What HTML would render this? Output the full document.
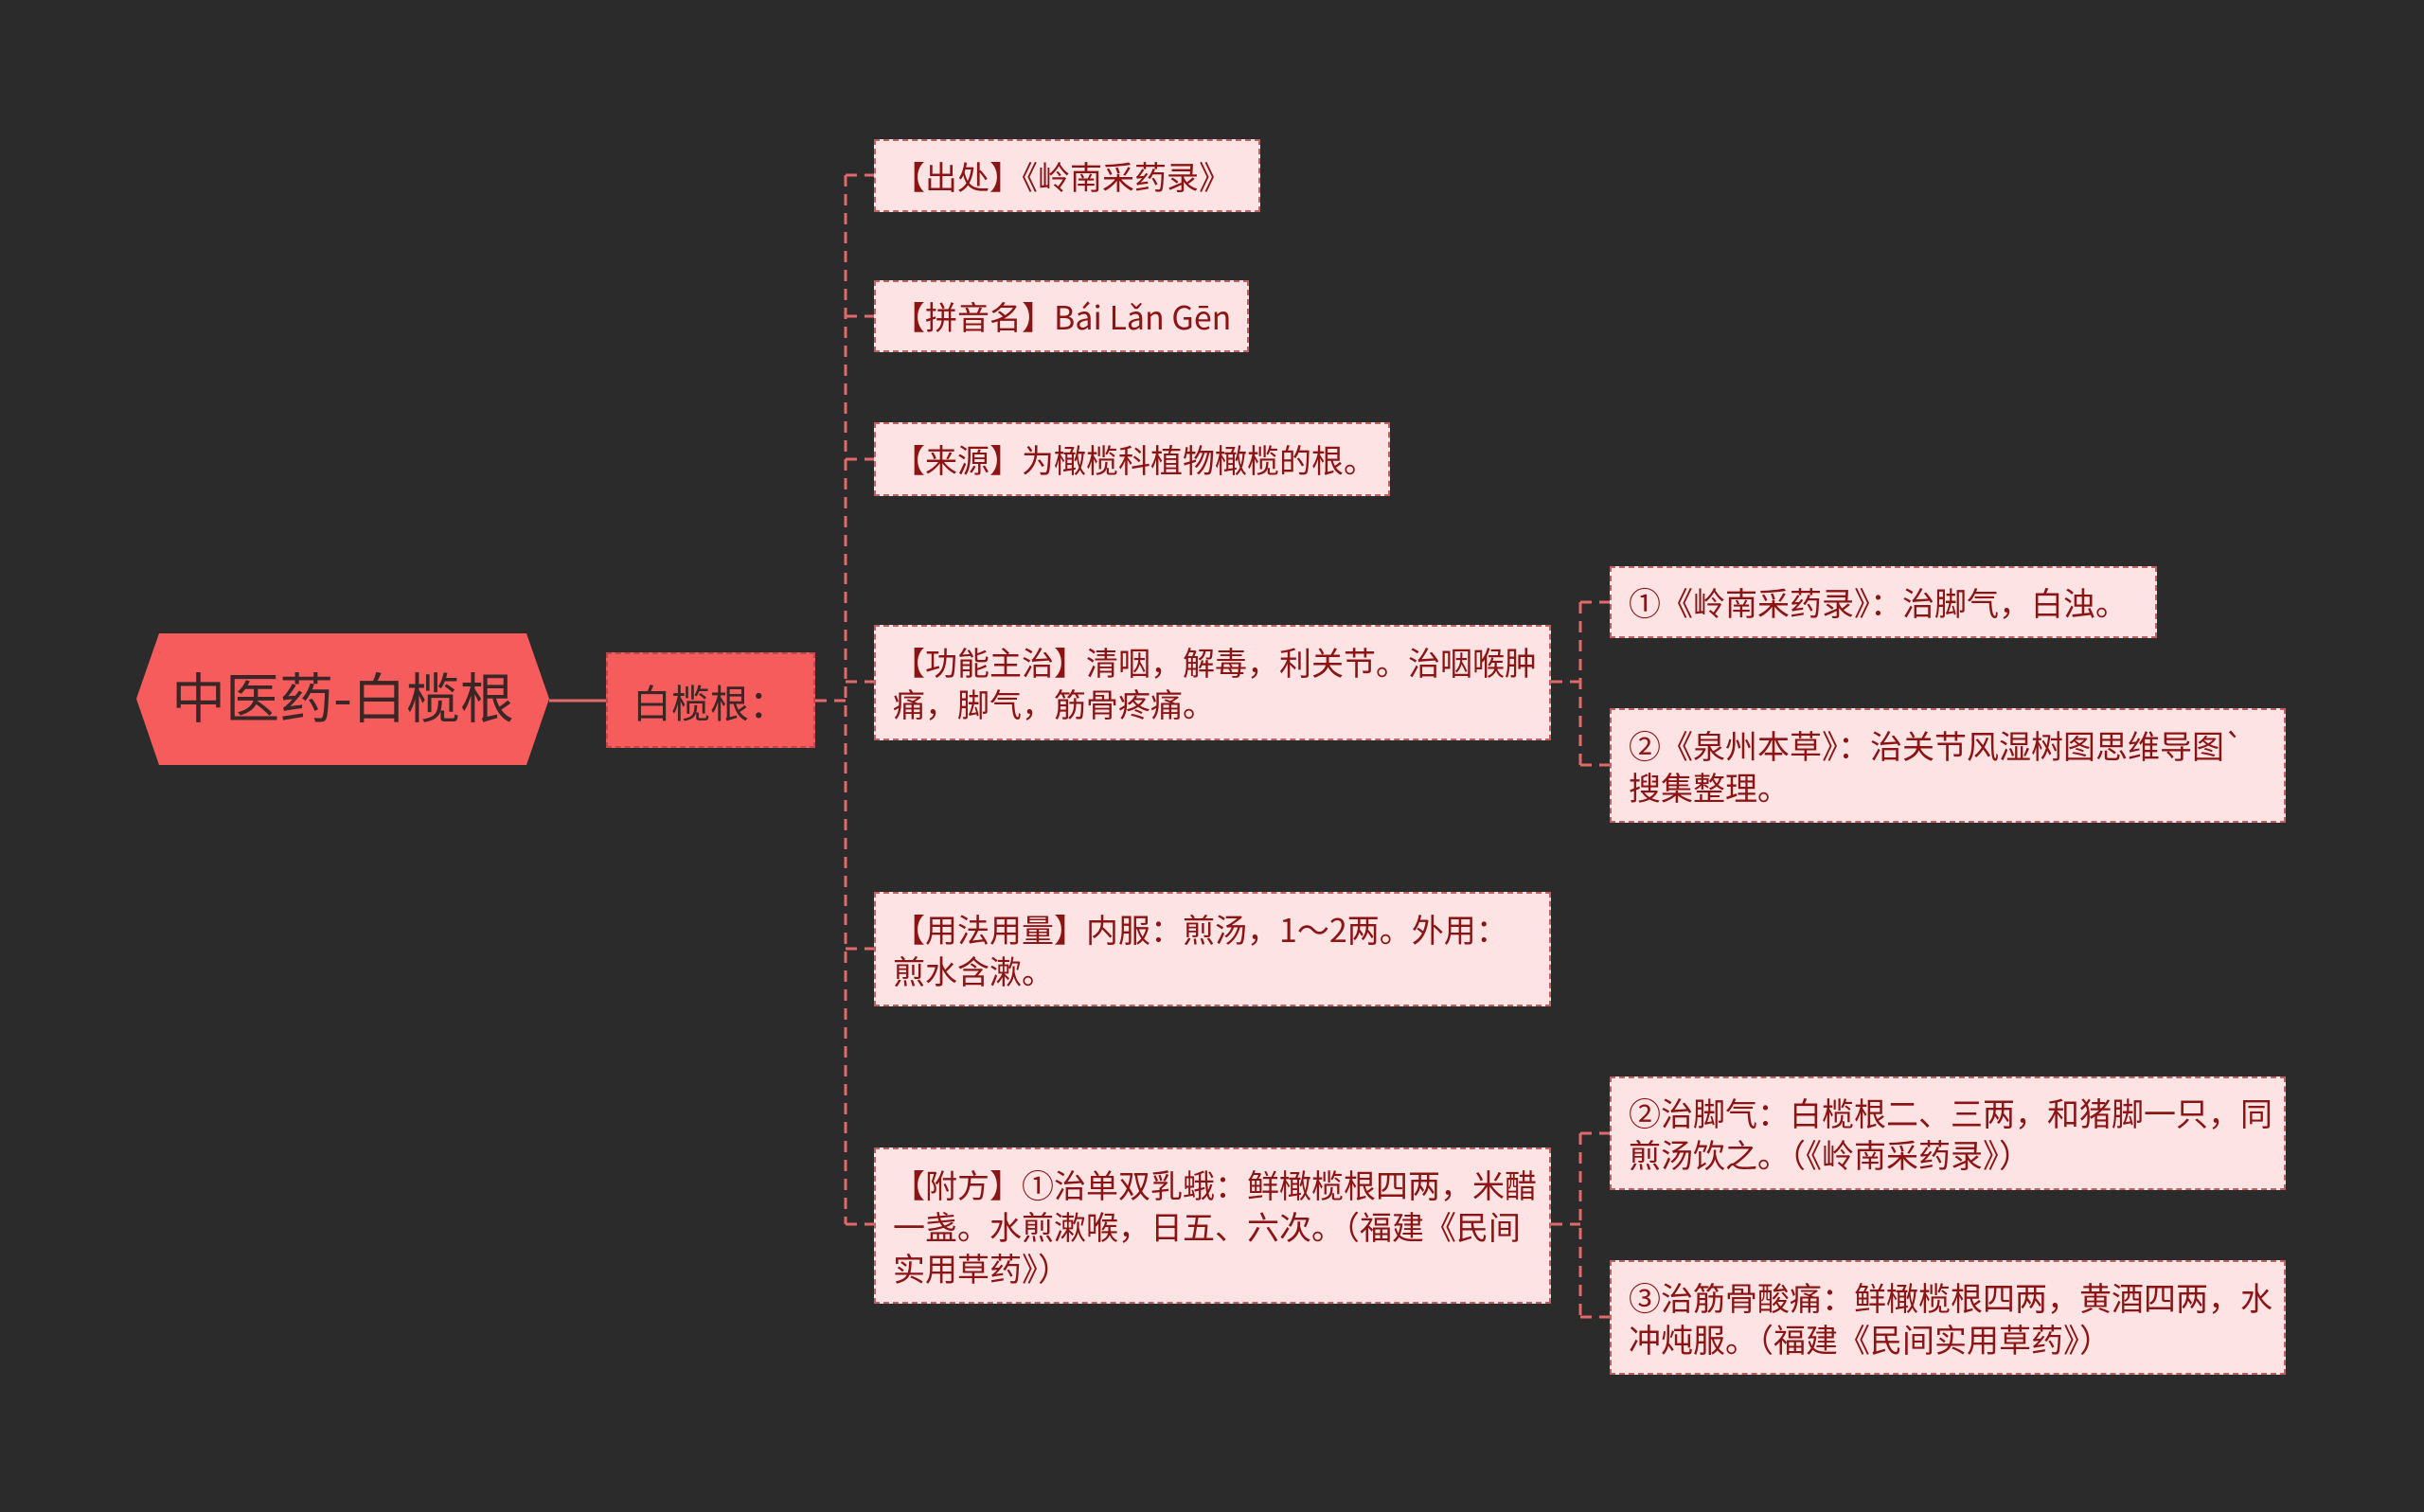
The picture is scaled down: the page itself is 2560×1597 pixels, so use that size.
<!DOCTYPE html>
<html><head><meta charset="utf-8">
<style>
html,body{margin:0;padding:0;background:#2b2b2b;}
body{width:2560px;height:1597px;position:relative;overflow:hidden;font-family:"Noto Sans CJK SC","Liberation Sans",sans-serif;}
.b{position:absolute;box-sizing:border-box;background:#fde3e3;border:2px dashed #c06060;color:#8b1515;font-size:34px;line-height:44px;padding:0 18px;display:flex;align-items:center;white-space:nowrap;}
.b span{display:block;}
</style></head><body>
<svg width="2560" height="1597" style="position:absolute;left:0;top:0">
<polygon points="168,669 556,669 580,738 556,808 168,808 144,738" fill="#f75c5c"/>
<g stroke="#e06a6a" stroke-width="3" fill="none" stroke-dasharray="12,8">
<line x1="580" y1="740" x2="640" y2="740" stroke-dasharray="none"/>
<line x1="861" y1="740" x2="893" y2="740"/>
<line x1="893" y1="185" x2="893" y2="1293"/>
<line x1="893" y1="185" x2="923" y2="185"/>
<line x1="893" y1="334" x2="923" y2="334"/>
<line x1="893" y1="485" x2="923" y2="485"/>
<line x1="893" y1="720" x2="923" y2="720"/>
<line x1="893" y1="1002" x2="923" y2="1002"/>
<line x1="893" y1="1293" x2="923" y2="1293"/>
<line x1="1638" y1="720" x2="1669" y2="720"/>
<line x1="1669" y1="636" x2="1669" y2="808"/>
<line x1="1669" y1="636" x2="1700" y2="636"/>
<line x1="1669" y1="808" x2="1700" y2="808"/>
<line x1="1638" y1="1293" x2="1669" y2="1293"/>
<line x1="1669" y1="1197" x2="1669" y2="1391"/>
<line x1="1669" y1="1197" x2="1700" y2="1197"/>
<line x1="1669" y1="1391" x2="1700" y2="1391"/>
</g>
<text x="362" y="758" text-anchor="middle" font-size="57" fill="#3a2626" font-family="Noto Sans CJK SC, Liberation Sans, sans-serif">中医药-白榄根</text>
</svg>
<div class="b" style="left:640px;top:689px;width:221px;height:101px;background:#f75c5c;color:#3a2626;font-size:41px;padding-left:26px;border-color:#c04848;">白榄根：</div>
<div class="b" style="left:923px;top:147px;width:408px;height:77px;"><span>【出处】《岭南采药录》</span></div>
<div class="b" style="left:923px;top:296px;width:396px;height:76px;"><span>【拼音名】Bái Lǎn Gēn</span></div>
<div class="b" style="left:923px;top:446px;width:545px;height:78px;"><span>【来源】为橄榄科植物橄榄的根。</span></div>
<div class="b" style="left:923px;top:660px;width:715px;height:122px;"><span>【功能主治】清咽，解毒，利关节。治咽喉肿<br>痛，脚气，筋骨疼痛。</span></div>
<div class="b" style="left:923px;top:942px;width:715px;height:121px;"><span>【用法用量】内服：煎汤，1～2两。外用：<br>煎水含漱。</span></div>
<div class="b" style="left:923px;top:1212px;width:715px;height:165px;"><span>【附方】①治单双乳蛾：鲜橄榄根四两，米醋<br>一盏。水煎漱喉，日五、六次。（福建《民间<br>实用草药》）</span></div>
<div class="b" style="left:1700px;top:598px;width:578px;height:76px;"><span>①《岭南采药录》：治脚气，白浊。</span></div>
<div class="b" style="left:1700px;top:748px;width:714px;height:121px;"><span>②《泉州本草》：治关节风湿树图思维导图`<br>搜集整理。</span></div>
<div class="b" style="left:1700px;top:1137px;width:714px;height:120px;"><span>②治脚气：白榄根二、三两，和猪脚一只，同<br>煎汤饮之。（《岭南采药录》）</span></div>
<div class="b" style="left:1700px;top:1331px;width:714px;height:121px;"><span>③治筋骨酸痛：鲜橄榄根四两，黄酒四两，水<br>冲炖服。（福建《民间实用草药》）</span></div>
</body></html>
